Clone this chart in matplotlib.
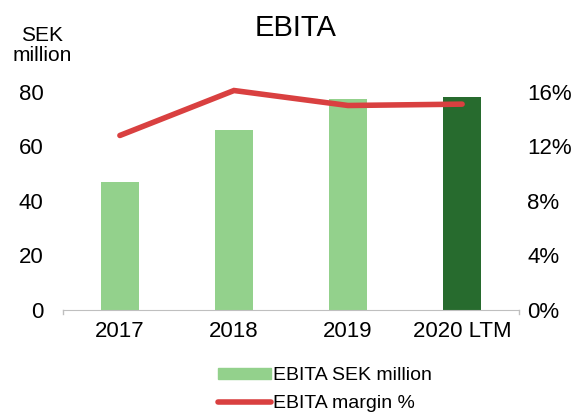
import matplotlib.pyplot as plt
from matplotlib.lines import Line2D
from matplotlib.patches import Patch

plt.rcParams['font.family'] = ['Liberation Sans', 'DejaVu Sans']

# -------------------------------
# data
# -------------------------------
years = ['2017', '2018', '2019', '2020 LTM']
ebita = [47, 66, 77.5, 78.3]
margin = [12.8, 16.1, 15.0, 15.1]
bar_colors = ['#93d18c', '#93d18c', '#93d18c', '#276b2e']

# -------------------------------
# plot
# -------------------------------
fig = plt.figure(figsize=(5.82, 4.12), dpi=100)
ax1 = fig.add_axes([0.108, 0.248, 0.784, 0.529])

x = range(len(years))
ax1.bar(x, ebita, width=0.33, color=bar_colors, zorder=2)
ax1.set_xlim(-0.5, 3.5)
ax1.set_ylim(0, 80)
ax1.set_yticks([0, 20, 40, 60, 80])
ax1.set_xticks(list(x))
ax1.set_xticklabels(years)

for s in ['top', 'right', 'left']:
    ax1.spines[s].set_visible(False)
ax1.spines['bottom'].set_color('#bfbfbf')
ax1.tick_params(axis='y', length=0, pad=14, labelsize=16)
ax1.tick_params(axis='x', length=0, pad=8, labelsize=16)
for xb in [-0.5, 3.5]:
    ax1.plot([xb, xb], [0, -1.5], color='#bfbfbf', lw=1, clip_on=False)

ax2 = ax1.twinx()
ax2.plot(x, margin, color='#d94040', lw=4, solid_capstyle='round',
         solid_joinstyle='miter', clip_on=False, zorder=3)
ax2.set_ylim(0, 16)
ax2.set_yticks([0, 4, 8, 12, 16])
ax2.set_yticklabels(['0%', '4%', '8%', '12%', '16%'])
ax2.tick_params(axis='y', length=0, pad=6, labelsize=16)
for s in ['top', 'right', 'left', 'bottom']:
    ax2.spines[s].set_visible(False)

fig.text(0.508, 0.932, 'EBITA', ha='center', va='center', fontsize=21)
fig.text(0.072, 0.89, 'SEK\nmillion', ha='center', va='center',
         fontsize=15, linespacing=1.05)

handles = [Patch(color='#93d18c'),
           Line2D([0], [0], color='#d94040', lw=4, solid_capstyle='round')]
fig.legend(handles, ['EBITA SEK million', 'EBITA margin %'],
           loc='center', bbox_to_anchor=(0.558, 0.054), frameon=False,
           fontsize=14, handlelength=2.7, handletextpad=0.1,
           labelspacing=0.55, handleheight=0.55, borderpad=0)

fig.savefig('out.png', dpi=100)
